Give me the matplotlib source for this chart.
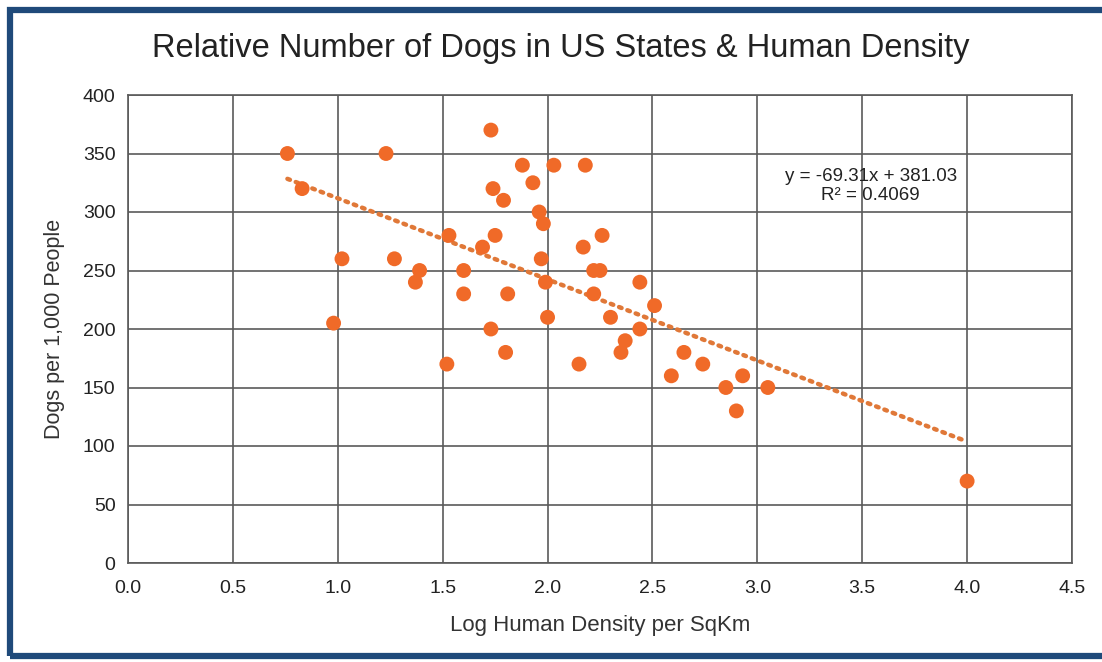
import matplotlib
matplotlib.use("Agg")
import matplotlib.pyplot as plt
from matplotlib.patches import Rectangle
import numpy as np

plt.rcParams['font.family'] = ['Liberation Sans', 'DejaVu Sans']

log_density = [0.76, 0.83, 1.23, 1.02, 1.27, 1.39, 1.37, 0.98, 1.53, 1.60,
               1.60, 1.52, 1.73, 1.88, 2.03, 2.18, 1.93, 1.74, 1.79, 1.96,
               1.98, 1.75, 2.26, 1.69, 2.17, 1.97, 2.22, 2.25, 1.99, 2.44,
               1.81, 2.22, 2.51, 2.00, 2.30, 1.73, 2.44, 2.37, 2.35, 1.80,
               2.15, 2.65, 2.59, 2.74, 2.85, 2.93, 2.90, 3.05, 4.00]
dogs = [350, 320, 350, 260, 260, 250, 240, 205, 280, 250,
        230, 170, 370, 340, 340, 340, 325, 320, 310, 300,
        290, 280, 280, 270, 270, 260, 250, 250, 240, 240,
        230, 230, 220, 210, 210, 200, 200, 190, 180, 180,
        170, 180, 160, 170, 150, 160, 130, 150, 70]
slope, intercept = -69.31, 381.03
x_ticks = [0.0, 0.5, 1.0, 1.5, 2.0, 2.5, 3.0, 3.5, 4.0, 4.5]
y_ticks = [0, 50, 100, 150, 200, 250, 300, 350, 400]

W, H = 1102, 662
fig = plt.figure(figsize=(W / 100, H / 100), dpi=100)
ax = fig.add_axes([128 / W, 1 - 563 / H, (1072 - 128) / W, (563 - 95) / H])

grid_c = '#5a5a5a'
ax.set_xlim(0, 4.5)
ax.set_ylim(0, 400)
ax.set_xticks(x_ticks)
ax.set_xticklabels([f"{v:.1f}" for v in x_ticks])
ax.set_yticks(y_ticks)
ax.grid(True, color=grid_c, linewidth=1.2)
ax.set_axisbelow(True)
for s in ax.spines.values():
    s.set_color(grid_c)
    s.set_linewidth(1.2)
ax.tick_params(length=0, labelsize=14, colors='#222222')
ax.tick_params(axis='x', pad=12)
ax.tick_params(axis='y', pad=9)

xs = np.array([min(log_density), max(log_density)])
ax.plot(xs, slope * xs + intercept, linestyle=(0, (0.6, 1.4)), color='#E07838',
        linewidth=3.2, dash_capstyle='round', zorder=2)
ax.scatter(log_density, dogs, s=115, color='#F06A28', edgecolors='none', zorder=3)

ax.text(3.54, 322, "y = -69.31x + 381.03\nR² = 0.4069", ha='center', va='center',
        fontsize=13.5, color='#222222', linespacing=1.15)

ax.set_xlabel("Log Human Density per SqKm", fontsize=16, color='#333333', labelpad=13)
ax.set_ylabel("Dogs per 1,000 People", fontsize=15.5, color='#333333', labelpad=13)
fig.text(561 / W, 1 - 48 / H, "Relative Number of Dogs in US States & Human Density",
         ha='center', va='center', fontsize=23.5, color='#222222')

fig.patches.append(Rectangle((10 / W, 1 - 656 / H), (1106 - 10) / W, (656 - 10) / H,
                             transform=fig.transFigure, fill=False,
                             edgecolor='#1F4A7A', linewidth=4.5))

fig.savefig("out.png", dpi=100)
